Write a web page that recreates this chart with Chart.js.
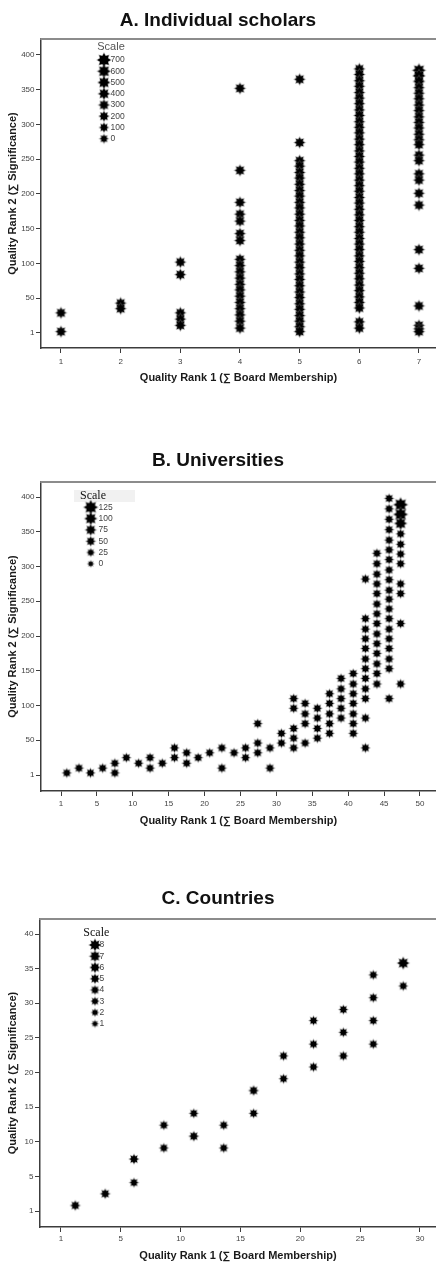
<!DOCTYPE html>
<html><head><meta charset="utf-8">
<script src="https://cdn.jsdelivr.net/npm/chart.js@4/dist/chart.umd.min.js"></script>
<style>
html,body{margin:0;padding:0;background:#fff;}
body{width:436px;height:1263px;position:relative;overflow:hidden;}
canvas{position:absolute;left:0;}
</style></head><body>
<canvas id="cA" width="436" height="420" style="top:0px"></canvas>
<canvas id="cB" width="436" height="420" style="top:420px"></canvas>
<canvas id="cC" width="436" height="423" style="top:840px"></canvas>
<script>
// ---------------- DATA ----------------
// Panel A: Individual scholars (x = rank 1 column, y values per column)
const scholarsRank1 = [1, 2, 3, 4, 5, 6, 7];
const scholarsRank2 = [
  [29, 2],
  [43, 35],
  [102, 84, 29, 20, 11],
  [352, 234, 188, 171, 161, 143, 133, 106, 97, 88, 79, 70, 62, 53, 44, 35, 26, 17, 7],
  [365, 274, 248, 240, 231, 223, 214, 205, 197, 188, 180, 171, 162, 154, 145, 137, 128, 119, 111, 102, 94, 85, 77, 68, 59, 51, 42, 34, 25, 17, 9, 2],
  [380, 372, 363, 355, 346, 338, 330, 321, 313, 304, 296, 288, 279, 271, 262, 254, 246, 237, 229, 220, 212, 204, 195, 187, 178, 170, 162, 153, 145, 136, 128, 120, 111, 103, 94, 86, 78, 69, 61, 52, 44, 36, 16, 7],
  [378, 370, 362, 353, 345, 337, 328, 320, 311, 303, 295, 286, 278, 271, 256, 248, 229, 220, 201, 184, 120, 93, 39, 11, 6, 2]
];
// scale (marker size) of the leading points in each column; others use the typical value
const scholarsScale = [[], [], [], [], [], [], [600, 500, 400]];
const scholarsScaleTypical = 300;
const scholarsXTicks = [1, 2, 3, 4, 5, 6, 7];
const scholarsXTickLabels = ['1', '2', '3', '4', '5', '6', '7'];
const scholarsYTicks = [0, 50, 100, 150, 200, 250, 300, 350, 400];
const scholarsYTickLabels = ['1', '50', '100', '150', '200', '250', '300', '350', '400'];
const scholarsLegend = [700, 600, 500, 400, 300, 200, 100, 0];

// Panel B: Universities
const universitiesRank1 = [0.8, 2.5, 4.1, 5.8, 7.5, 9.1, 10.8, 12.4, 14.1, 15.8, 17.5, 19.1, 20.7, 22.4, 24.1, 25.7, 27.4, 29.1, 30.7, 32.4, 34.0, 35.7, 37.4, 39.0, 40.7, 42.4, 44.0, 45.7, 47.3];
const universitiesRank2 = [
  [3], [10], [3], [10], [17, 3], [25], [17], [25, 10], [17], [39, 25], [32, 17], [25], [32], [39, 10], [32], [39, 25],
  [74, 46, 32], [39, 10], [60, 46], [110, 96, 67, 53, 39], [103, 88, 74, 46], [96, 82, 67, 53], [117, 103, 88, 74, 60],
  [139, 124, 110, 96, 82], [146, 131, 117, 103, 88, 74, 60],
  [282, 225, 210, 196, 182, 167, 153, 139, 124, 110, 82, 39],
  [319, 304, 289, 275, 261, 246, 232, 218, 203, 189, 175, 160, 146, 131],
  [398, 383, 368, 353, 338, 324, 310, 295, 281, 266, 253, 239, 225, 210, 196, 182, 167, 153, 110],
  [389, 375, 362, 347, 332, 318, 304, 275, 261, 218, 131]
];
const universitiesScale = [[], [], [], [], [], [], [], [], [], [], [], [], [], [], [], [], [], [], [], [], [], [], [], [], [], [], [], [], [125, 125, 100]];
const universitiesScaleTypical = 45;
const universitiesXTicks = [0, 5, 10, 15, 20, 25, 30, 35, 40, 45, 50];
const universitiesXTickLabels = ['1', '5', '10', '15', '20', '25', '30', '35', '40', '45', '50'];
const universitiesYTicks = [0, 50, 100, 150, 200, 250, 300, 350, 400];
const universitiesYTickLabels = ['1', '50', '100', '150', '200', '250', '300', '350', '400'];
const universitiesLegend = [125, 100, 75, 50, 25, 0];

// Panel C: Countries
const countriesRank1 = [1.2, 3.7, 6.1, 6.1, 8.6, 8.6, 11.1, 11.1, 13.6, 13.6, 16.1, 16.1, 18.6, 18.6, 21.1, 21.1, 21.1, 23.6, 23.6, 23.6, 26.1, 26.1, 26.1, 26.1, 28.6, 28.6];
const countriesRank2 = [0.8, 2.5, 7.5, 4.1, 12.4, 9.1, 14.1, 10.8, 12.4, 9.1, 17.4, 14.1, 22.4, 19.1, 27.5, 24.1, 20.8, 29.1, 25.8, 22.4, 34.1, 30.8, 27.5, 24.1, 35.8, 32.5];
const countriesScale = [5, 5, 5, 4, 4, 4, 4, 5, 4, 4, 5, 4, 4, 4, 4, 4, 4, 4, 4, 4, 4, 4, 4, 4, 8, 4];
const countriesXTicks = [0, 5, 10, 15, 20, 25, 30];
const countriesXTickLabels = ['1', '5', '10', '15', '20', '25', '30'];
const countriesYTicks = [0, 5, 10, 15, 20, 25, 30, 35, 40];
const countriesYTickLabels = ['1', '5', '10', '15', '20', '25', '30', '35', '40'];
const countriesLegend = [8, 7, 6, 5, 4, 3, 2, 1];

// ---------------- RENDERING ----------------
const FONT = "'Liberation Sans', Arial, Helvetica, sans-serif";
const SERIF = "'Liberation Serif', 'Times New Roman', serif";
const X_TITLE = 'Quality Rank 1 (\u2211 Board Membership)';
const Y_TITLE = 'Quality Rank 2 (\u2211 Significance)';

const starCache = {};
function starCanvas(d) {
  const key = d.toFixed(1);
  if (starCache[key]) return starCache[key];
  const size = Math.ceil(d) + 4;
  const c = document.createElement('canvas');
  c.width = c.height = size;
  const g = c.getContext('2d');
  const cx = size / 2, R = d / 2, r = R * 0.64;
  g.beginPath();
  for (let i = 0; i < 16; i++) {
    const a = i * Math.PI / 8 - Math.PI / 2;
    const rr = (i % 2) ? r : R;
    g.lineTo(cx + rr * Math.cos(a), cx + rr * Math.sin(a));
  }
  g.closePath();
  g.lineWidth = 1.3;
  g.strokeStyle = 'rgba(120,120,120,0.55)';
  g.stroke();
  g.fillStyle = '#000';
  g.fill();
  starCache[key] = c;
  return c;
}

function columnsToPoints(xs, ys, scales, typical) {
  const pts = [];
  xs.forEach((x, i) => {
    ys[i].forEach((y, j) => {
      const s = (scales[i] && scales[i][j] !== undefined) ? scales[i][j] : typical;
      pts.push({ x: x, y: y, s: s });
    });
  });
  return pts;
}

const frameTop = {
  id: 'frameTop',
  afterDraw(chart) {
    const { ctx, chartArea: a } = chart;
    ctx.save();
    ctx.strokeStyle = '#8c8c8c';
    ctx.lineWidth = 2;
    ctx.beginPath();
    ctx.moveTo(a.left - 0.75, a.top);
    ctx.lineTo(a.right, a.top);
    ctx.stroke();
    ctx.restore();
  }
};

function makeKeyPlugin(k) {
  return {
    id: 'scaleKey',
    afterDraw(chart) {
      const ctx = chart.ctx;
      ctx.save();
      if (k.bgRect) {
        ctx.fillStyle = '#f1f1f1';
        ctx.fillRect(k.bgRect[0], k.bgRect[1], k.bgRect[2], k.bgRect[3]);
      }
      ctx.font = k.titleFont;
      ctx.fillStyle = k.titleColor;
      ctx.textAlign = 'center';
      ctx.textBaseline = 'middle';
      ctx.fillText('Scale', k.titleX, k.titleY);
      ctx.font = '8.5px ' + FONT;
      ctx.fillStyle = '#444';
      ctx.textAlign = 'left';
      k.values.forEach((v, i) => {
        const img = starCanvas(k.diam(v));
        const y = k.y0 + i * k.step;
        ctx.drawImage(img, k.x - img.width / 2, y - img.height / 2);
        ctx.fillText(String(v), k.labelX, y);
      });
      ctx.restore();
    }
  };
}

function buildChart(id, spec) {
  const tickFont = { family: FONT, size: 8 };
  return new Chart(document.getElementById(id), {
    type: 'scatter',
    data: {
      datasets: [{
        data: spec.points,
        pointStyle: (c) => (c.raw ? starCanvas(spec.diam(c.raw.s)) : 'circle'),
        pointRadius: 4,
        backgroundColor: '#000',
        borderColor: '#000'
      }]
    },
    options: {
      responsive: false,
      animation: false,
      devicePixelRatio: 1,
      events: [],
      layout: { padding: 0, autoPadding: false },
      plugins: {
        legend: { display: false },
        tooltip: { enabled: false },
        title: {
          display: true, text: spec.title,
          font: { family: FONT, size: 19, weight: 'bold' }, color: '#111',
          padding: spec.titlePad
        }
      },
      scales: {
        x: {
          type: 'linear', position: 'bottom', min: spec.xMin, max: spec.xMax,
          afterFit: (s) => { s.height = spec.xH; },
          afterBuildTicks: (s) => { s.ticks = spec.xTicks.map(v => ({ value: v })); },
          ticks: { callback: (v, i) => spec.xLabels[i], font: tickFont, color: '#444', padding: spec.xTickPad, maxRotation: 0, autoSkip: false },
          grid: { display: true, drawOnChartArea: false, drawTicks: true, tickLength: 5, color: '#3c3c3c', tickColor: '#3c3c3c', lineWidth: 1 },
          border: { display: true, color: '#3c3c3c', width: 1.5 },
          title: { display: true, text: X_TITLE, font: { family: FONT, size: 11, weight: 'bold' }, color: '#1a1a1a', padding: { top: 0, bottom: spec.xTitlePad } }
        },
        y: {
          type: 'linear', position: 'left', min: spec.yMin, max: spec.yMax,
          afterFit: (s) => { s.width = spec.yW; },
          afterBuildTicks: (s) => { s.ticks = spec.yTicks.map(v => ({ value: v })); },
          ticks: { callback: (v, i) => spec.yLabels[i], font: tickFont, color: '#444', padding: 1.5, autoSkip: false },
          grid: { display: true, drawOnChartArea: false, drawTicks: true, tickLength: 5, color: '#3c3c3c', tickColor: '#3c3c3c', lineWidth: 1 },
          border: { display: true, color: '#3c3c3c', width: 1.5 },
          title: { display: true, text: Y_TITLE, font: { family: FONT, size: 11, weight: 'bold' }, color: '#1a1a1a', padding: { top: 6.5, bottom: 0 } }
        }
      }
    },
    plugins: [frameTop, makeKeyPlugin(spec.key)]
  });
}

// Panel A
const diamA = (s) => 8.3 + 5 * s / 700;
buildChart('cA', {
  title: 'A. Individual scholars',
  titlePad: { top: 9, bottom: 7.2 },
  points: columnsToPoints(scholarsRank1, scholarsRank2, scholarsScale, scholarsScaleTypical),
  diam: diamA,
  xMin: 0.665, xMax: 7.285, yMin: -21.6, yMax: 423,
  xTicks: scholarsXTicks, xLabels: scholarsXTickLabels,
  yTicks: scholarsYTicks, yLabels: scholarsYTickLabels,
  xH: 72, yW: 41, xTickPad: 4.2, xTitlePad: 35.4,
  key: { values: scholarsLegend, diam: diamA, x: 104, y0: 60, step: 11.25, labelX: 110.5,
         titleX: 111, titleY: 47, titleFont: '11px ' + FONT, titleColor: '#555' }
});

// Panel B
const diamB = (s) => 5.8 + 7.7 * s / 125;
buildChart('cB', {
  title: 'B. Universities',
  titlePad: { top: 29.5, bottom: 9.7 },
  points: columnsToPoints(universitiesRank1, universitiesRank2, universitiesScale, universitiesScaleTypical),
  diam: diamB,
  xMin: -2.79, xMax: 52.23, yMin: -23, yMax: 421.6,
  xTicks: universitiesXTicks, xLabels: universitiesXTickLabels,
  yTicks: universitiesYTicks, yLabels: universitiesYTickLabels,
  xH: 49, yW: 41, xTickPad: 3.2, xTitlePad: 12.4,
  key: { values: universitiesLegend, diam: diamB, x: 90.7, y0: 87.3, step: 11.3, labelX: 98.5,
         titleX: 93, titleY: 76, titleFont: '12px ' + SERIF, titleColor: '#111', bgRect: [74, 70, 61, 12] }
});

// Panel C
const diamC = (s) => 6.3 + 5 * (s - 1) / 7;
buildChart('cC', {
  title: 'C. Countries',
  titlePad: { top: 47.5, bottom: 8.7 },
  points: countriesRank1.map((x, i) => ({ x: x, y: countriesRank2[i], s: countriesScale[i] })),
  diam: diamC,
  xMin: -1.75, xMax: 31.34, yMin: -2.31, yMax: 42.17,
  xTicks: countriesXTicks, xLabels: countriesXTickLabels,
  yTicks: countriesYTicks, yLabels: countriesYTickLabels,
  xH: 36, yW: 40, xTickPad: 2.2, xTitlePad: 0.4,
  key: { values: countriesLegend, diam: diamC, x: 95, y0: 105, step: 11.25, labelX: 99.5,
         titleX: 96.3, titleY: 93.3, titleFont: '12px ' + SERIF, titleColor: '#111' }
});
</script>
</body></html>
